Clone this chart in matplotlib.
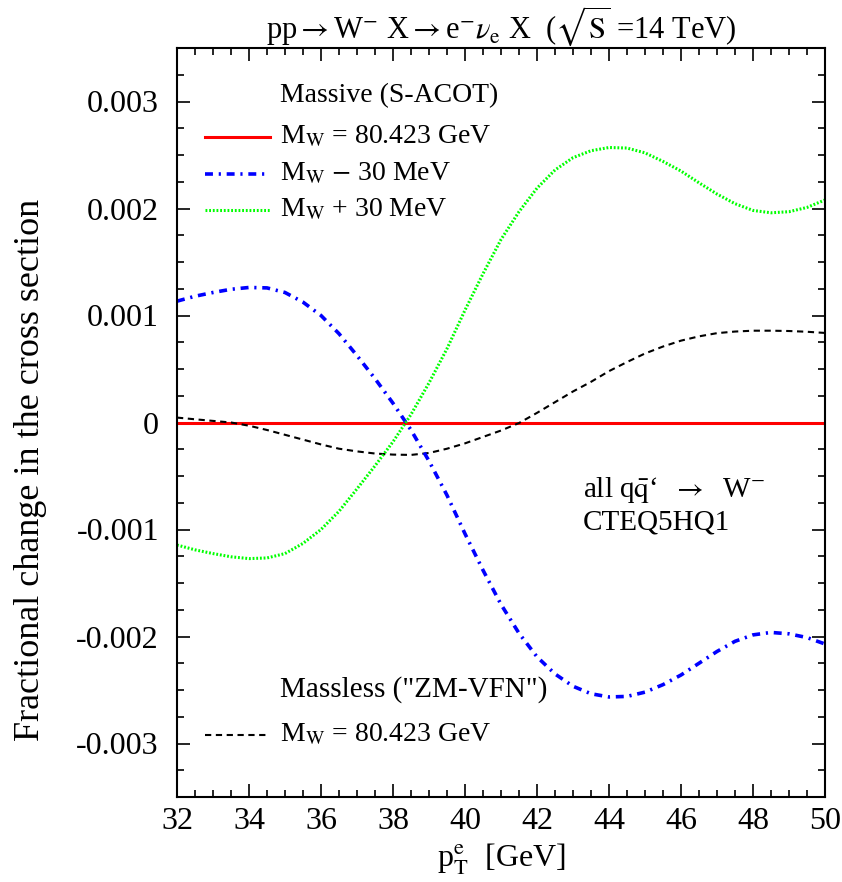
import numpy as np
import matplotlib
matplotlib.use("Agg")
import matplotlib.pyplot as plt
from matplotlib.ticker import MultipleLocator, FuncFormatter
from matplotlib.lines import Line2D

plt.rcParams['font.family'] = ['Liberation Serif', 'DejaVu Serif']
plt.rcParams['mathtext.fontset'] = 'stix'
plt.rcParams['axes.unicode_minus'] = False

# electron transverse momentum [GeV]
pt = [32.0, 32.5, 33.0, 33.5, 34.0, 34.5, 35.0, 35.5, 36.0, 36.5, 37.0, 37.5,
      38.0, 38.5, 39.0, 39.5, 40.0, 40.5, 41.0, 41.5, 42.0, 42.5, 43.0, 43.5,
      44.0, 44.5, 45.0, 45.5, 46.0, 46.5, 47.0, 47.5, 48.0, 48.5, 49.0, 49.5, 50.0]

# fractional change (units of 1e-3), massive S-ACOT, M_W - 30 MeV
mw_minus = [1.134, 1.18, 1.215, 1.245, 1.262, 1.258, 1.215, 1.125, 1.0, 0.83, 0.625, 0.41,
            0.18, -0.07, -0.36, -0.68, -1.04, -1.38, -1.70, -1.97, -2.19, -2.35, -2.465, -2.535,
            -2.565, -2.56, -2.52, -2.45, -2.36, -2.25, -2.14, -2.045, -1.985, -1.962, -1.975, -2.01, -2.07]

# massive S-ACOT, M_W + 30 MeV
mw_plus = [-1.145, -1.19, -1.225, -1.255, -1.272, -1.266, -1.225, -1.13, -1.0, -0.83, -0.62, -0.405,
           -0.18, 0.075, 0.37, 0.69, 1.05, 1.39, 1.71, 1.97, 2.19, 2.36, 2.475, 2.54,
           2.57, 2.565, 2.52, 2.44, 2.35, 2.24, 2.135, 2.045, 1.982, 1.96, 1.97, 2.01, 2.08]

# massless ZM-VFN, M_W = 80.423 GeV
zm_vfn = [0.046, 0.03, 0.015, 0.0, -0.03, -0.07, -0.115, -0.16, -0.205, -0.245, -0.27, -0.29,
          -0.30, -0.303, -0.285, -0.245, -0.195, -0.135, -0.075, -0.005, 0.09, 0.19, 0.29, 0.38,
          0.48, 0.565, 0.645, 0.71, 0.765, 0.805, 0.835, 0.85, 0.858, 0.858, 0.855, 0.848, 0.837]

# reference (massive, M_W = 80.423 GeV)
ref_x = [32.0, 50.0]
ref_y = [0.0, 0.0]

scale = 1e-3
styles = {
    'ref': dict(color='#ff0000', lw=2.2, ls='-'),
    'minus': dict(color='#0000ff', lw=2.6, ls=(0, (2.2, 1.6, 0.6, 1.6))),
    'plus': dict(color='#00ff00', lw=2.2, ls=(0, (0.6, 0.6))),
    'zm': dict(color='black', lw=1.5, ls=(0, (3.0, 2.2))),
}

fig = plt.figure(figsize=(8.42, 8.82), dpi=100)
ax = fig.add_axes([177/842, 85/882, 648/842, 749/882])

ax.plot(ref_x, np.array(ref_y) * scale, **styles['ref'])
ax.plot(pt, np.array(zm_vfn) * scale, **styles['zm'])
ax.plot(pt, np.array(mw_minus) * scale, **styles['minus'])
ax.plot(pt, np.array(mw_plus) * scale, **styles['plus'])

ax.set_xlim(32, 50)
ax.set_ylim(-0.0035, 0.0035)
ax.xaxis.set_major_locator(MultipleLocator(2))
ax.xaxis.set_minor_locator(MultipleLocator(0.5))
ax.yaxis.set_major_locator(MultipleLocator(0.001))
ax.yaxis.set_minor_locator(MultipleLocator(0.00025))
ax.yaxis.set_major_formatter(FuncFormatter(lambda v, p: '0' if abs(v) < 1e-9 else f'{v:.3f}'))
ax.tick_params(which='both', direction='in', top=True, right=True, width=1.2, labelsize=23)
ax.tick_params(which='major', length=9.5)
ax.tick_params(which='minor', length=5)
ax.tick_params(axis='y', which='major', pad=13)
ax.tick_params(axis='x', which='major', pad=7)
for s in ax.spines.values():
    s.set_linewidth(1.5)

ax.set_xlabel(r'p$_{\mathrm{T}}^{\mathrm{e}}$  [GeV]', fontsize=23, labelpad=4)
ax.set_ylabel('Fractional change in the cross section', fontsize=26, labelpad=21, y=0.437)
ax.set_title(r'pp$\rightarrow$W$^{-}$ X$\rightarrow$e$^{-}\nu_{\mathrm{e}}$ X  ($\sqrt{\mathrm{S}}$ =14 TeV)',
             fontsize=22, pad=6)

# key for the curves
tr = ax.transAxes
ax.text(0.159, 0.937, 'Massive (S-ACOT)', transform=tr, fontsize=20, va='center')
entries = [
    (0.8812, 'ref', r'M$_{\mathrm{W}}$ = 80.423 GeV'),
    (0.8318, 'minus', r'M$_{\mathrm{W}}$ $-$ 30 MeV'),
    (0.7837, 'plus', r'M$_{\mathrm{W}}$ + 30 MeV'),
]
for y, key, label in entries:
    ax.add_line(Line2D([0.043, 0.1435], [y, y], transform=tr, **styles[key]))
    ax.text(0.159, y, label, transform=tr, fontsize=20, va='center')

ax.text(0.159, 0.1429, 'Massless ("ZM-VFN")', transform=tr, fontsize=21, va='center')
ax.add_line(Line2D([0.043, 0.1435], [0.0828, 0.0828], transform=tr, **styles['zm']))
ax.text(0.159, 0.0828, r'M$_{\mathrm{W}}$ = 80.423 GeV', transform=tr, fontsize=20, va='center')

ax.text(0.6265, 0.41, r'all q$\bar{\mathrm{q}}$‘  $\rightarrow$  W$^{-}$', transform=tr, fontsize=21, va='center')
ax.text(0.6265, 0.367, 'CTEQ5HQ1', transform=tr, fontsize=21, va='center')

fig.savefig('out.png', dpi=100)
